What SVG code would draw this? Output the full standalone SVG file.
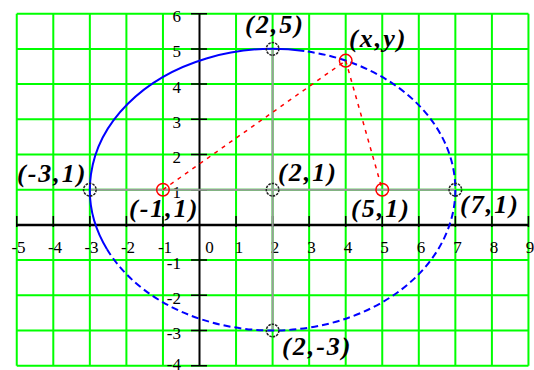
<svg xmlns="http://www.w3.org/2000/svg" width="534" height="370" viewBox="0 0 534 370">
<style>
.grid{stroke:#00ff00;stroke-width:2;fill:none}
.axis{stroke:#000;fill:none}
.tick{stroke:#000;stroke-width:1.5}
.ax{font-family:"Liberation Serif",serif;font-size:17px;fill:#000}
.ylab{text-anchor:end}
.xlab{text-anchor:middle}
.pt{font-family:"Liberation Serif",serif;font-size:26px;font-weight:bold;font-style:italic;letter-spacing:2px;fill:#000}
.gray{stroke:#9a9a9a;stroke-width:2;fill:none}
.ell{stroke:#0000ff;stroke-width:2;fill:none}
.dash{stroke-dasharray:7 4}
.red{stroke:#ff0000;stroke-width:1.5;fill:none;stroke-dasharray:4 5}
.rc{stroke:#ff0000;stroke-width:1.5;fill:none}
.dc{stroke:#222;stroke-width:1.5;fill:none;stroke-dasharray:2.5 1}
</style>
<rect width="534" height="370" fill="#fff"/>
<g id="grid">
<path class="grid" d="M16.75 13.7V365.7M53.3 13.7V365.7M89.85 13.7V365.7M126.4 13.7V365.7M162.95 13.7V365.7M236.05 13.7V365.7M272.6 13.7V365.7M309.15 13.7V365.7M345.7 13.7V365.7M382.25 13.7V365.7M418.8 13.7V365.7M455.35 13.7V365.7M491.9 13.7V365.7M528.45 13.7V365.7M16.75 13.7H528.45M16.75 48.9H528.45M16.75 84.1H528.45M16.75 119.3H528.45M16.75 154.5H528.45M16.75 189.7H528.45M16.75 260.1H528.45M16.75 295.3H528.45M16.75 330.5H528.45M16.75 365.7H528.45"/>
</g>
<g id="axes">
<line class="axis" x1="16.75" y1="225" x2="528.45" y2="225" stroke-width="2.5"/>
<line class="axis" x1="199.5" y1="13.7" x2="199.5" y2="365.7" stroke-width="2"/>
<path class="tick" d="M191 13.7H207M191 48.9H207M191 84.1H207M191 119.3H207M191 154.5H207M191 189.7H207M191 260.1H207M191 295.3H207M191 330.5H207M191 365.7H207"/>
<path class="tick" d="M16.75 216V227M53.3 216V227M89.85 216V227M126.4 216V227M162.95 216V227M236.05 216V227M272.6 216V227M309.15 216V227M345.7 216V227M382.25 216V227M418.8 216V227M455.35 216V227M491.9 216V227M528.45 216V227"/>
</g>
<g id="axis-labels" class="ax">
<text class="ylab" x="181" y="22.2">6</text>
<text class="ylab" x="181" y="57.4">5</text>
<text class="ylab" x="181" y="92.6">4</text>
<text class="ylab" x="181" y="127.8">3</text>
<text class="ylab" x="181" y="163">2</text>
<text class="ylab" x="181" y="198.2">1</text>
<text class="ylab" x="181" y="268.6">-1</text>
<text class="ylab" x="181" y="303.8">-2</text>
<text class="ylab" x="181" y="339">-3</text>
<text class="ylab" x="181" y="370">-4</text>
<text class="xlab" x="18.5" y="253">-5</text>
<text class="xlab" x="55" y="253">-4</text>
<text class="xlab" x="91.5" y="253">-3</text>
<text class="xlab" x="128" y="253">-2</text>
<text class="xlab" x="165" y="253">-1</text>
<text class="xlab" x="209.5" y="253">0</text>
<text class="xlab" x="239" y="253">1</text>
<text class="xlab" x="275" y="253">2</text>
<text class="xlab" x="311.5" y="253">3</text>
<text class="xlab" x="348" y="253">4</text>
<text class="xlab" x="384.5" y="253">5</text>
<text class="xlab" x="421" y="253">6</text>
<text class="xlab" x="457.5" y="253">7</text>
<text class="xlab" x="494" y="253">8</text>
<text class="xlab" x="530" y="253">9</text>
</g>
<g id="connectors">
<line class="gray" x1="89.85" y1="189.7" x2="455.35" y2="189.7"/>
<line class="gray" x1="272.6" y1="48.9" x2="272.6" y2="330.5" stroke-width="1.6"/>
<path class="ell" d="M304.3 51.0A182.75 140.8 0 0 0 107.0 249.2"/>
<path class="ell dash" d="M107.0 249.2A182.75 140.8 0 1 0 304.3 51.0"/>
<line class="red" x1="162.95" y1="189.7" x2="345.7" y2="60.65"/>
<line class="red" x1="345.7" y1="60.65" x2="382.25" y2="189.7"/>
</g>
<g id="node-m3-1"><circle class="dc" cx="89.85" cy="189.7" r="6.3"/><text class="pt" x="17" y="182">(-3,1)</text></g>
<g id="node-m1-1"><circle class="rc" cx="162.95" cy="189.7" r="6.3"/><text class="pt" x="129" y="217">(-1,1)</text></g>
<g id="node-2-1"><circle class="dc" cx="272.6" cy="189.7" r="6.3"/><text class="pt" x="278" y="181">(2,1)</text></g>
<g id="node-2-5"><circle class="dc" cx="272.6" cy="48.9" r="6.3"/><text class="pt" x="245" y="33">(2,5)</text></g>
<g id="node-2-m3"><circle class="dc" cx="272.6" cy="330.5" r="6.3"/><text class="pt" x="282" y="355">(2,-3)</text></g>
<g id="node-xy"><circle class="rc" cx="345.7" cy="60.65" r="6.3"/><text class="pt" x="349" y="47">(x,y)</text></g>
<g id="node-5-1"><circle class="rc" cx="382.25" cy="189.7" r="6.3"/><text class="pt" x="351" y="217">(5,1)</text></g>
<g id="node-7-1"><circle class="dc" cx="455.35" cy="189.7" r="6.3"/><text class="pt" x="460" y="213">(7,1)</text></g>
</svg>
